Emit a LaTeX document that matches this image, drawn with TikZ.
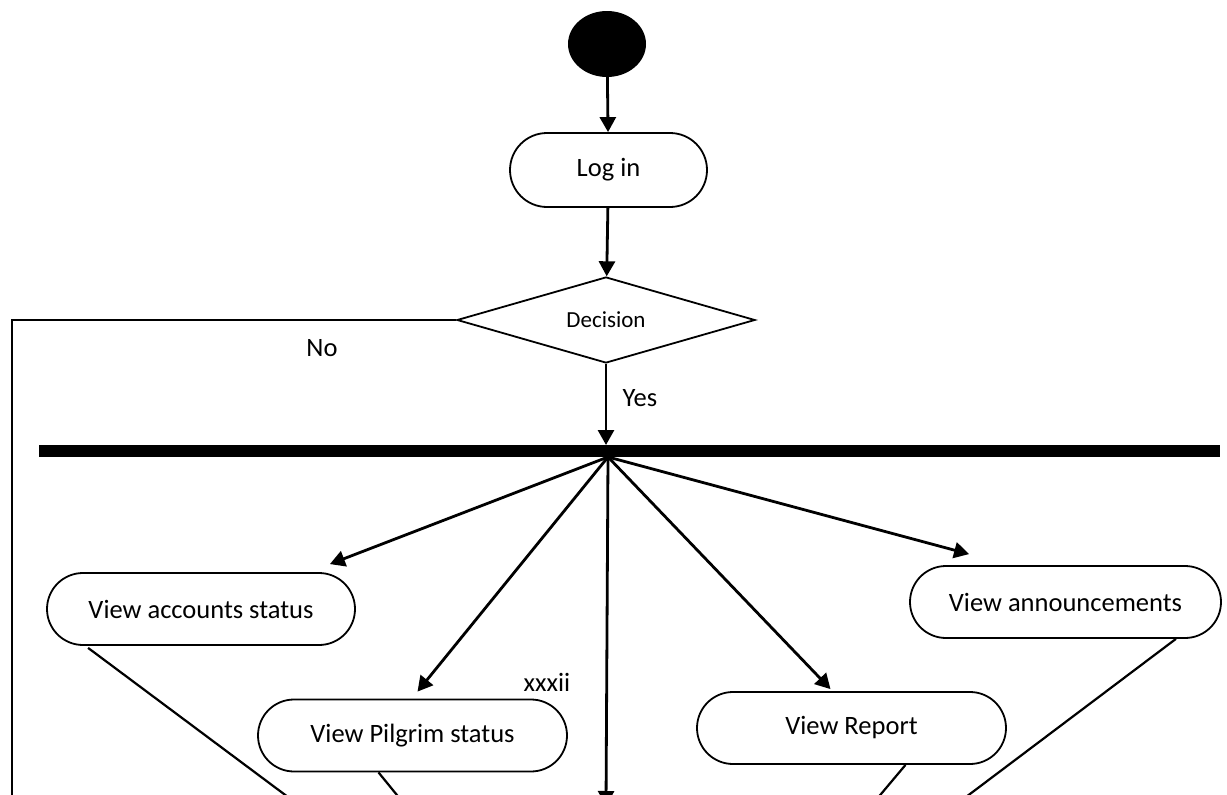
\documentclass[tikz,border=0pt]{standalone}
\usepackage{fontspec}
\setmainfont{Carlito}
\usetikzlibrary{arrows.meta,shapes.geometric}
\begin{document}
\begin{tikzpicture}[x=1pt,y=-1pt,
  act/.style={draw, line width=1.8pt, rounded corners=36pt, minimum height=72pt, inner sep=0pt, font=\fontsize{26.5}{30}\selectfont},
  arr/.style={line width=2.8pt, -{Triangle[length=15pt,width=16pt]}},
  plain/.style={line width=2.2pt},
  lbl/.style={font=\fontsize{26.5}{30}\selectfont, inner sep=0pt}]
\useasboundingbox (0,0) rectangle (1227,795);
\node[ellipse, fill=black, minimum width=78pt, minimum height=66pt, inner sep=0pt] (start) at (607,44) {};
\node[act, minimum width=197pt, minimum height=74pt, rounded corners=37pt] (login) at (608.5,170) {Log in};
\node[diamond, draw, line width=1.8pt, aspect=3.47, minimum width=298pt, minimum height=86pt, inner sep=0pt, font=\fontsize{23}{26}\selectfont] (dec) at (606,320) {Decision};
\node[fill=black, minimum width=1181pt, minimum height=12pt, inner sep=0pt] (bar) at (629.5,451) {};
\coordinate (barin) at (606,445);
\coordinate (fork) at (608,457);
\coordinate (nocorner) at (12,320);
\coordinate (noend) at (12,800);
\coordinate (downend) at (606,806);

\node[act, minimum width=308pt] (acc) at (201,609) {View accounts status};
\node[act, minimum width=309pt] (pil) at (412.5,735.5) {View Pilgrim status};
\node[act, minimum width=309pt] (rep) at (851.5,728) {View Report};
\node[act, minimum width=311pt] (ann) at (1065.5,602) {View announcements};

\node[lbl] (yes) at (640,398) {Yes};
\node[lbl] (no) at (322,348) {No};
\node[lbl] (pg) at (547,682) {xxxii};

\draw[arr] (start) -- (login);
\draw[arr] (login) -- (dec);
\draw[arr] (dec.south) -- (barin);
\draw[plain] (dec.west) -- (nocorner) -- (noend);

\draw[arr] (fork) -- ([xshift=-26pt,yshift=8pt]acc.north east);
\draw[arr] (fork) -- ([xshift=5pt,yshift=7pt]pil.north);
\draw[arr] (fork) -- (downend);
\draw[arr] (fork) -- ([xshift=-21pt,yshift=2pt]rep.north);
\draw[arr] (fork) -- ([xshift=60pt,yshift=11pt]ann.north west);

\coordinate (accend) at (292,800);
\coordinate (pilend) at (401,800);
\coordinate (repend) at (876,800);
\coordinate (annend) at (962,800);
\draw[plain] ([xshift=42pt,yshift=-2pt]acc.south west) -- (accend);
\draw[plain] ([xshift=-34pt]pil.south) -- (pilend);
\draw[plain] ([xshift=54pt]rep.south) -- (repend);
\draw[plain] ([xshift=-46pt]ann.south east) -- (annend);
\end{tikzpicture}
\end{document}
